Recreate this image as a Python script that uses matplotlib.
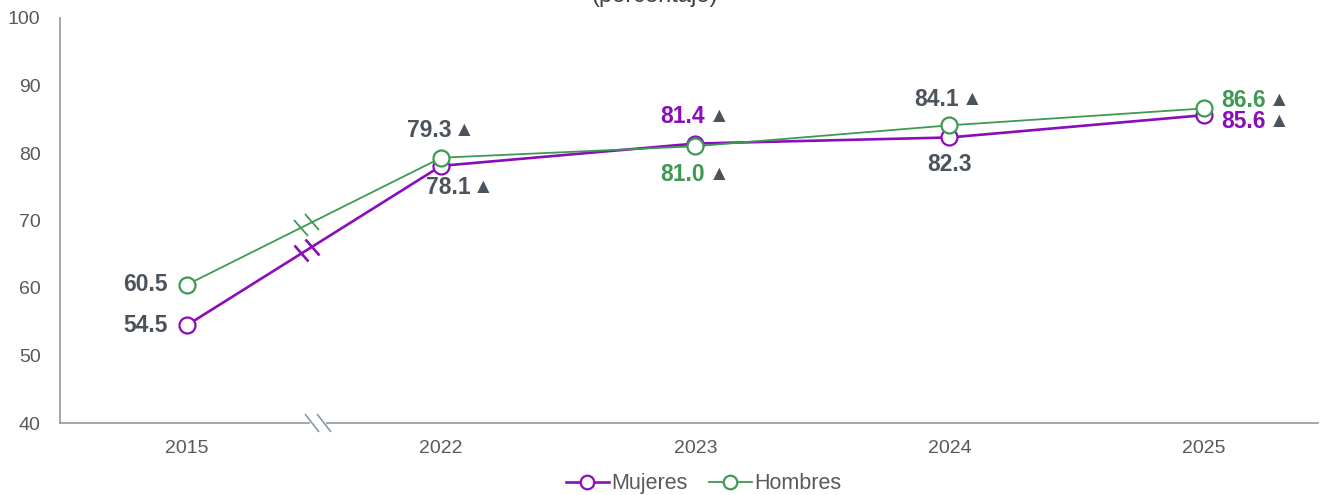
import matplotlib.pyplot as plt
import matplotlib.transforms as mtransforms
from matplotlib.markers import MarkerStyle

plt.rcParams['font.family'] = ['Liberation Sans', 'DejaVu Sans']

# datos
anios = ['2015', '2022', '2023', '2024', '2025']
mujeres = [54.5, 78.1, 81.4, 82.3, 85.6]
hombres = [60.5, 79.3, 81.0, 84.1, 86.6]
# etiqueta con triángulo de aumento
tri_mujeres = [False, True, True, False, True]
tri_hombres = [False, True, True, True, True]

morado = '#8a0cba'
verde = '#3d9a52'
gris = '#4b535c'
gris_eje = '#8e99a3'

fig = plt.figure(figsize=(13.2, 4.95), dpi=100)
ax = fig.add_axes([60 / 1320, 1 - 423 / 495, 1258 / 1320, 405 / 495])

x = list(range(len(anios)))
ax.plot(x, mujeres, color=morado, lw=1.9, marker='o', ms=11.5,
        mfc='white', mec=morado, mew=1.6, zorder=3)
ax.plot(x, hombres, color=verde, lw=1.3, marker='o', ms=11.5,
        mfc='white', mec=verde, mew=1.6, zorder=4)

ax.set_xlim(-0.5, 4.45)
ax.set_ylim(40, 100)
ax.set_yticks(range(40, 101, 10))
ax.set_xticks(x)
ax.set_xticklabels(anios)
ax.tick_params(axis='both', length=0, labelsize=14, colors='#595959')
ax.tick_params(axis='x', pad=12)
ax.tick_params(axis='y', pad=14)
for s in ['top', 'right']:
    ax.spines[s].set_visible(False)
for s in ['left', 'bottom']:
    ax.spines[s].set_color(gris_eje)
    ax.spines[s].set_linewidth(1.2)

# marcas de corte en las series (entre 2015 y 2022)
corte = MarkerStyle('|', transform=mtransforms.Affine2D().rotate_deg(40))
for serie, col, lw in [(mujeres, morado, 1.9), (hombres, verde, 1.3)]:
    for f in (0.45, 0.49):
        ax.plot([f], [serie[0] + (serie[1] - serie[0]) * f], marker=corte,
                ms=15, mew=lw, color=col, zorder=5)

# corte en el eje x
trans = mtransforms.blended_transform_factory(ax.transData, ax.transAxes)
ax.plot([0.49, 0.54], [0, 0], transform=trans, color='white', lw=3,
        clip_on=False, zorder=6)
barra = MarkerStyle('|', transform=mtransforms.Affine2D().rotate_deg(40))
ax.plot([0.49, 0.54], [0, 0], transform=trans, ls='none', marker=barra,
        ms=16, mew=1.2, color=gris_eje, clip_on=False, zorder=7)

# etiquetas: (indice, serie, triangulos, dx, dy, ha, color del numero) en pixeles
etiquetas = [
    (0, hombres, tri_hombres, -19, 0, 'right', gris),
    (0, mujeres, tri_mujeres, -19, 0, 'right', gris),
    (1, hombres, tri_hombres, 10, 27, 'right', gris),
    (1, mujeres, tri_mujeres, 29, -22, 'right', gris),
    (2, mujeres, tri_mujeres, 10, 27, 'right', morado),
    (2, hombres, tri_hombres, 10, -28, 'right', verde),
    (3, hombres, tri_hombres, 9, 26, 'right', gris),
    (3, mujeres, tri_mujeres, 0, -27, 'center', gris),
    (4, hombres, tri_hombres, 18, 8, 'left', verde),
    (4, mujeres, tri_mujeres, 18, -6, 'left', morado),
]
k = 0.72  # px -> pt
for i, serie, tri, dx, dy, ha, col in etiquetas:
    ax.annotate(f'{serie[i]:.1f}', (i, serie[i]), xytext=(dx * k, dy * k),
                textcoords='offset points', ha=ha, va='center',
                fontsize=16.5, fontweight='bold', color=col, zorder=8)
    if tri[i]:
        tdx = dx + 3 if ha == 'right' else dx + 47
        ax.annotate('▲', (i, serie[i]), xytext=(tdx * k, dy * k),
                    textcoords='offset points', ha='left', va='center',
                    fontsize=15, color=gris, zorder=8)

# titulo cortado arriba
fig.text(0.496, 0.986, '(porcentaje)', ha='center', va='bottom',
         fontsize=17, color='#404040')

fig.legend(['Mujeres', 'Hombres'], loc='lower center',
           bbox_to_anchor=(0.533, -0.038), ncol=2, frameon=False,
           fontsize=15.5, labelcolor='#595959', handlelength=2.0,
           handletextpad=0.1, columnspacing=1.0, markerscale=0.85)

fig.savefig('out.png', dpi=100)
